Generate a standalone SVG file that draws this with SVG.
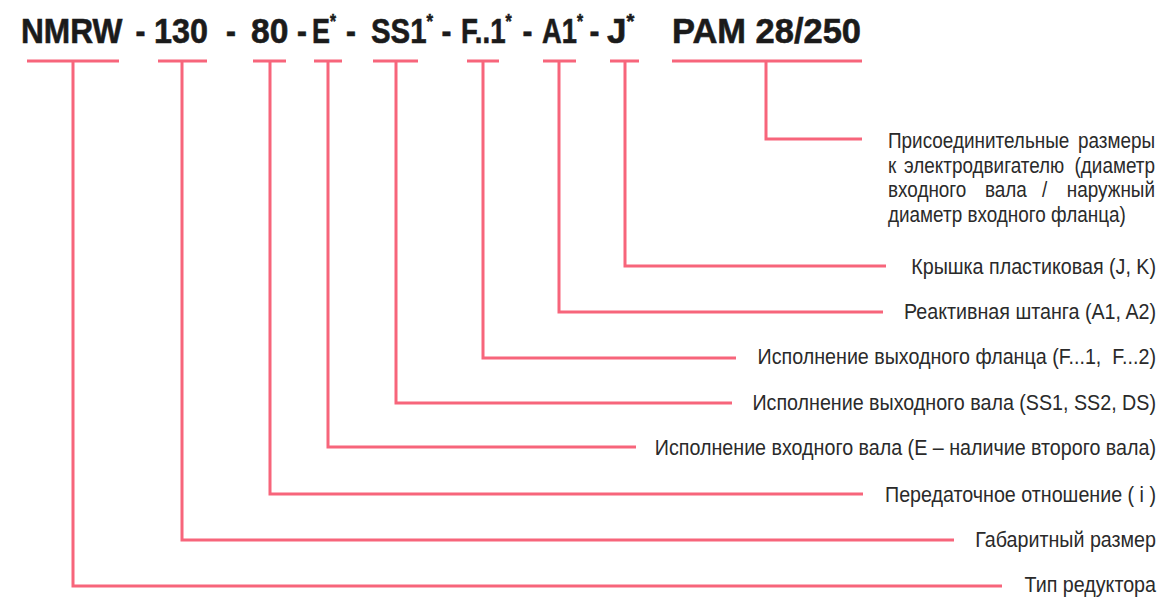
<svg xmlns="http://www.w3.org/2000/svg" width="1163" height="599" viewBox="0 0 1163 599">
<style>
.hd{font-family:"Liberation Sans",Arial,sans-serif;font-weight:bold;font-size:35px;fill:#1b1b1b;stroke:#1b1b1b;stroke-width:0.6}
.sup{font-size:20px}
.lb{font-family:"Liberation Sans",Arial,sans-serif;font-size:22px;fill:#2a2a2a}
.r{text-anchor:end}
.c{text-anchor:middle}
.cn{fill:none;stroke:#f7657b;stroke-width:3}
</style>
<rect width="1163" height="599" fill="#ffffff"/>
<g id="code">
<text class="hd" transform="translate(21,43) scale(0.905,1)">NMRW</text>
<text class="hd c" transform="translate(140.5,43) scale(0.85,1)">-</text>
<text class="hd" transform="translate(154,43) scale(0.925,1)">130</text>
<text class="hd c" transform="translate(231,43) scale(0.85,1)">-</text>
<text class="hd" transform="translate(251,43) scale(0.96,1)">80</text>
<text class="hd c" transform="translate(302,43) scale(0.85,1)">-</text>
<text class="hd" transform="translate(312,43) scale(0.77,1)">E<tspan class="sup" dy="-15">*</tspan></text>
<text class="hd c" transform="translate(351,43) scale(0.85,1)">-</text>
<text class="hd" transform="translate(371,43) scale(0.84,1)">SS1<tspan class="sup" dy="-15">*</tspan></text>
<text class="hd c" transform="translate(446.5,43) scale(0.85,1)">-</text>
<text class="hd" transform="translate(461,43) scale(0.79,1)">F..1<tspan class="sup" dy="-15">*</tspan></text>
<text class="hd c" transform="translate(527.5,43) scale(0.85,1)">-</text>
<text class="hd" transform="translate(542,43) scale(0.78,1)">A1<tspan class="sup" dy="-15">*</tspan></text>
<text class="hd c" transform="translate(594.5,43) scale(0.85,1)">-</text>
<text class="hd" transform="translate(607,43) scale(1.0,1)">J<tspan class="sup" dy="-15">*</tspan></text>
<text class="hd" transform="translate(672,43) scale(0.985,1)">PAM 28/250</text>
</g>
<g id="connectors">
<path class="cn" d="M27 61H119M73 61V586H1002"/>
<path class="cn" d="M158 61H207M182 61V540H954"/>
<path class="cn" d="M253 61H286M270 61V494H863"/>
<path class="cn" d="M314 61H342M328 61V447H636"/>
<path class="cn" d="M373 61H418M396 61V403H732"/>
<path class="cn" d="M467 61H499M483 61V358H736"/>
<path class="cn" d="M543 61H576M559 61V312H883"/>
<path class="cn" d="M610 61H639M625 61V266H886"/>
<path class="cn" d="M672 61H862M766 61V139H862"/>
</g>
<g id="label-pam">
<text class="lb" transform="translate(888,148) scale(0.86,1)">Присоединительные</text>
<text class="lb r" transform="translate(1155,148) scale(0.86,1)">размеры</text>
<text class="lb" transform="translate(888,172.5) scale(0.86,1)">к</text>
<text class="lb" transform="translate(904,172.5) scale(0.86,1)">электродвигателю</text>
<text class="lb r" transform="translate(1155,172.5) scale(0.86,1)">(диаметр</text>
<text class="lb" transform="translate(888,197) scale(0.86,1)">входного</text>
<text class="lb" transform="translate(985,197) scale(0.86,1)">вала</text>
<text class="lb" transform="translate(1042,197) scale(0.86,1)">/</text>
<text class="lb r" transform="translate(1155,197) scale(0.86,1)">наружный</text>
<text class="lb" transform="translate(888,221.5) scale(0.86,1)">диаметр входного фланца)</text>
</g>
<g id="label-j"><text class="lb r" transform="translate(1156,274) scale(0.895,1)">Крышка пластиковая (J, K)</text></g>
<g id="label-a1"><text class="lb r" transform="translate(1156,319) scale(0.895,1)">Реактивная штанга (A1, A2)</text></g>
<g id="label-f"><text class="lb r" transform="translate(1156,364) scale(0.895,1)" style="white-space:pre">Исполнение выходного фланца (F...1,  F...2)</text></g>
<g id="label-ss1"><text class="lb r" transform="translate(1156,410) scale(0.895,1)">Исполнение выходного вала (SS1, SS2, DS)</text></g>
<g id="label-e"><text class="lb r" transform="translate(1156,455) scale(0.895,1)">Исполнение входного вала (E – наличие второго вала)</text></g>
<g id="label-80"><text class="lb r" transform="translate(1156,502) scale(0.895,1)">Передаточное отношение ( i )</text></g>
<g id="label-130"><text class="lb r" transform="translate(1156,547) scale(0.895,1)">Габаритный размер</text></g>
<g id="label-nmrw"><text class="lb r" transform="translate(1156,592) scale(0.895,1)">Тип редуктора</text></g>
</svg>
